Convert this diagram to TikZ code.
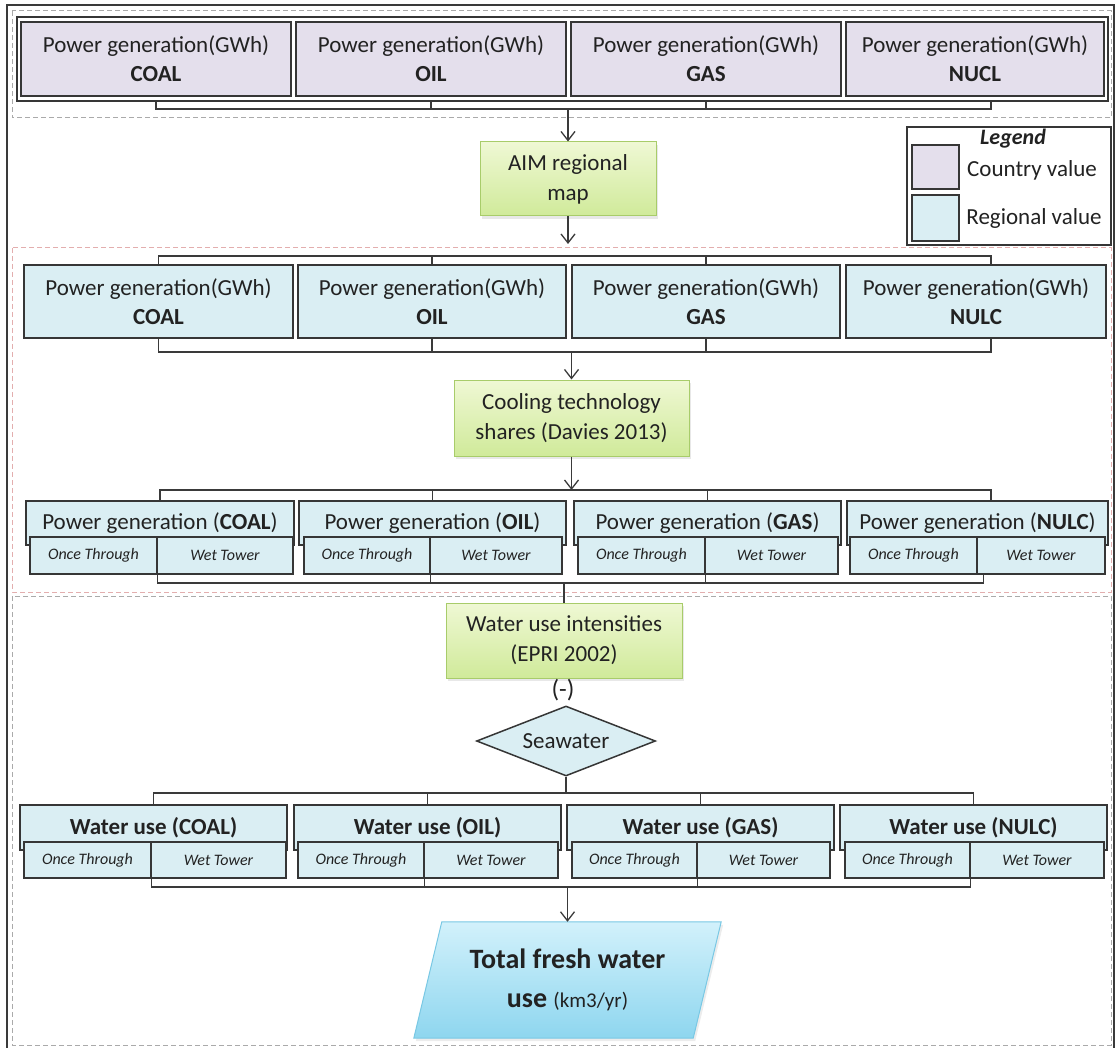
\documentclass[tikz,border=0pt]{standalone}
\usepackage{fontspec}
\setmainfont{Carlito}
\usetikzlibrary{arrows.meta,shapes.geometric,shadows,backgrounds}
\definecolor{purpf}{HTML}{E4DFEC}
\definecolor{bluef}{HTML}{DAEEF3}
\definecolor{bordc}{HTML}{363636}
\definecolor{linec}{HTML}{3A3A3A}
\definecolor{txt}{HTML}{222222}
\definecolor{greenT}{HTML}{EFF8D4}
\definecolor{greenB}{HTML}{D0EA9A}
\definecolor{greenb}{HTML}{A8CC6A}
\definecolor{cyanT}{HTML}{D2F1FB}
\definecolor{cyanB}{HTML}{8ED6EF}
\definecolor{cyanb}{HTML}{79C8E4}
\definecolor{dashg}{HTML}{AAAAAA}
\definecolor{dashp}{HTML}{E3AEAE}
\begin{document}
\begin{tikzpicture}[x=1pt,y=-1pt,
  box/.style={draw=bordc, line width=1.5pt, inner sep=0pt, text=txt, align=center,
    font=\fontsize{23}{29}\selectfont},
  pbox/.style={box, fill=purpf},
  bbox/.style={box, fill=bluef},
  subbox/.style={box, fill=bluef, font=\fontsize{16}{20}\selectfont\itshape},
  gbox/.style={draw=greenb, line width=1pt, top color=greenT, bottom color=greenB,
    inner sep=0pt, text=txt, align=center, font=\fontsize{23}{30}\selectfont,
    drop shadow={opacity=0.18, shadow xshift=2pt, shadow yshift=-3pt}},
  lbl/.style={inner sep=0pt, text=txt, align=center, font=\fontsize{23}{29}\selectfont},
  conn/.style={draw=linec, line width=1.4pt},
  arr/.style={conn, -{Straight Barb[length=9pt,width=14pt,line width=1.3pt]}},
  grpgray/.style={draw=dashg, line width=1pt, dash pattern=on 5pt off 3pt},
  grppink/.style={draw=dashp, line width=1pt, dash pattern=on 5pt off 3pt},
  frame/.style={draw=linec, line width=1.4pt}
]
\useasboundingbox (0,0) rectangle (1118,1048);

% outer frame and dashed groups
\draw[frame] (7,1048) -- (7,5) -- (1114,5) -- (1114,1048);
\draw[grpgray] (12,11) rectangle (1111,118);
\draw[grppink] (12,248) rectangle (1111,592);
\draw[grpgray] (12,596) rectangle (1111,1045);

% ---------- Row 1 : country values ----------
\node[box, fill=white, minimum width=1091pt, minimum height=84pt] (g1) at (562.5,59) {};
\node[pbox, minimum width=270pt, minimum height=74pt] (c1) at (156,59) {Power generation(GWh)\\\textbf{COAL}};
\node[pbox, minimum width=270pt, minimum height=74pt] (c2) at (431,59) {Power generation(GWh)\\\textbf{OIL}};
\node[pbox, minimum width=270pt, minimum height=74pt] (c3) at (706,59) {Power generation(GWh)\\\textbf{GAS}};
\node[pbox, minimum width=258pt, minimum height=74pt] (c4) at (975,59) {Power generation(GWh)\\\textbf{NUCL}};

\coordinate (b1) at (568,109);
\draw[conn] (c1.south|-g1.south) |- (b1) -| ([xshift=16pt]c4.south|-g1.south);
\draw[conn] (c2.south|-g1.south) -- (c2.south|-b1);
\draw[conn] (c3.south|-g1.south) -- (c3.south|-b1);

% ---------- AIM ----------
\node[gbox, minimum width=176pt, minimum height=74pt] (aim) at (568,179) {AIM regional\\map};
\draw[arr] (aim.north|-b1) -- (aim.north);
\coordinate (a2) at (568,244);
\draw[arr] (aim.south) -- (a2);

% ---------- Legend ----------
\node[draw=bordc, line width=1.5pt, fill=white, minimum width=204pt, minimum height=118pt, inner sep=0pt] (leg) at (1009,186) {};
\node[lbl, font=\fontsize{22}{26}\selectfont\bfseries\itshape] (legt) at (1013,139) {Legend};
\node[pbox, minimum width=47pt, minimum height=44pt] (sw1) at (935.5,167) {};
\node[bbox, minimum width=47pt, minimum height=46pt] (sw2) at (935.5,218) {};
\node[lbl] (lt1) at (1032,170) {Country value};
\node[lbl] (lt2) at (1034,218) {Regional value};

% ---------- Row 2 : regional values ----------
\node[bbox, minimum width=269pt, minimum height=73pt] (d1) at (158.5,301.5) {Power generation(GWh)\\\textbf{COAL}};
\node[bbox, minimum width=268pt, minimum height=73pt] (d2) at (432,301.5) {Power generation(GWh)\\\textbf{OIL}};
\node[bbox, minimum width=268pt, minimum height=73pt] (d3) at (706,301.5) {Power generation(GWh)\\\textbf{GAS}};
\node[bbox, minimum width=260pt, minimum height=73pt] (d4) at (976,301.5) {Power generation(GWh)\\\textbf{NULC}};

\coordinate (b2) at (568,256);
\draw[conn] (d1.north) |- (b2) -| ([xshift=15pt]d4.north);
\draw[conn] (d2.north) -- (d2.north|-b2);
\draw[conn] (d3.north) -- (d3.north|-b2);

\coordinate (b3) at (571,352);
\draw[conn] (d1.south) |- (b3) -| ([xshift=15pt]d4.south);
\draw[conn] (d2.south) -- (d2.south|-b3);
\draw[conn] (d3.south) -- (d3.south|-b3);

% ---------- Cooling ----------
\node[gbox, minimum width=235pt, minimum height=76pt] (cool) at (571.5,418) {Cooling technology\\shares (Davies 2013)};
\draw[arr] (cool.north|-b3) -- (cool.north);
\coordinate (b4) at (571.5,490);
\draw[arr] (cool.south) -- (b4);

% ---------- Row 3 : power generation by cooling ----------
\node[bbox, minimum width=268pt, minimum height=44pt] (e1) at (160,523) {Power generation (\textbf{COAL})};
\node[bbox, minimum width=267pt, minimum height=44pt] (e2) at (432.5,523) {Power generation (\textbf{OIL})};
\node[bbox, minimum width=267pt, minimum height=44pt] (e3) at (707.5,523) {Power generation (\textbf{GAS})};
\node[bbox, minimum width=261pt, minimum height=44pt] (e4) at (977.5,523) {Power generation (\textbf{NULC})};

\node[subbox, minimum width=127pt, minimum height=37pt] (s1a) at (93.5,555.5) {Once Through};
\node[subbox, minimum width=136pt, minimum height=37pt] (s1b) at (225,555.5) {Wet Tower};
\node[subbox, minimum width=126pt, minimum height=37pt] (s2a) at (367,555.5) {Once Through};
\node[subbox, minimum width=132pt, minimum height=37pt] (s2b) at (496,555.5) {Wet Tower};
\node[subbox, minimum width=127pt, minimum height=37pt] (s3a) at (641.5,555.5) {Once Through};
\node[subbox, minimum width=133pt, minimum height=37pt] (s3b) at (771.5,555.5) {Wet Tower};
\node[subbox, minimum width=127pt, minimum height=37pt] (s4a) at (913.5,555.5) {Once Through};
\node[subbox, minimum width=128pt, minimum height=37pt] (s4b) at (1041,555.5) {Wet Tower};

\draw[conn] (e1.north) |- (b4) -| ([xshift=13.5pt]e4.north);
\draw[conn] (e2.north) -- (e2.north|-b4);
\draw[conn] (e3.north) -- (e3.north|-b4);

\coordinate (b5) at (564,583);
\draw[conn] (s1a.south east) |- (b5) -| ([xshift=6pt]s4a.south east);
\draw[conn] (s2a.south east) -- (s2a.south east|-b5);
\draw[conn] (s3a.south east) -- (s3a.south east|-b5);

% ---------- Water use intensities ----------
\node[gbox, minimum width=236pt, minimum height=75pt] (wui) at (564,640.5) {Water use intensities\\(EPRI 2002)};
\draw[conn] (wui.north|-b5) -- (wui.north);
\node[lbl, font=\fontsize{25}{29}\selectfont] (minus) at (563,690) {(-)};
\node[diamond, aspect=2.5, draw=bordc, line width=1.5pt, fill=bluef, inner sep=0pt,
  minimum width=179pt, minimum height=70pt, text=txt, font=\fontsize{23}{29}\selectfont] (sea) at (566,741) {Seawater};

% ---------- Row 4 : water use ----------
\node[bbox, minimum width=267pt, minimum height=45pt] (f1) at (153.5,827.5) {\textbf{Water use (COAL)}};
\node[bbox, minimum width=267pt, minimum height=45pt] (f2) at (427.5,827.5) {\textbf{Water use (OIL)}};
\node[bbox, minimum width=267pt, minimum height=45pt] (f3) at (700.5,827.5) {\textbf{Water use (GAS)}};
\node[bbox, minimum width=267pt, minimum height=45pt] (f4) at (973.5,827.5) {\textbf{Water use (NULC)}};

\node[subbox, minimum width=127pt, minimum height=36pt] (t1a) at (87.5,860) {Once Through};
\node[subbox, minimum width=135pt, minimum height=36pt] (t1b) at (218.5,860) {Wet Tower};
\node[subbox, minimum width=126pt, minimum height=36pt] (t2a) at (361,860) {Once Through};
\node[subbox, minimum width=134pt, minimum height=36pt] (t2b) at (491,860) {Wet Tower};
\node[subbox, minimum width=125pt, minimum height=36pt] (t3a) at (634.5,860) {Once Through};
\node[subbox, minimum width=133pt, minimum height=36pt] (t3b) at (763.5,860) {Wet Tower};
\node[subbox, minimum width=125pt, minimum height=36pt] (t4a) at (907.5,860) {Once Through};
\node[subbox, minimum width=134pt, minimum height=36pt] (t4b) at (1037,860) {Wet Tower};

\coordinate (b6) at (566,793);
\draw[conn] (sea.south) -- (b6);
\draw[conn] (f1.north) |- (b6) -| (f4.north);
\draw[conn] (f2.north) -- (f2.north|-b6);
\draw[conn] (f3.north) -- (f3.north|-b6);

\coordinate (b7) at (566,887);
\draw[conn] (t1a.south east) |- (b7) -| (t4a.south east);
\draw[conn] (t2a.south east) -- (t2a.south east|-b7);
\draw[conn] (t3a.south east) -- (t3a.south east|-b7);

% ---------- Total ----------
\node[inner sep=0pt, minimum width=279pt, minimum height=116pt, text=txt, align=center,
  font=\fontsize{28}{39}\selectfont] (total) at (567.5,980)
  {\textbf{Total fresh water}\\\textbf{use} {\fontsize{21}{39}\selectfont(km3/yr)}};
\begin{scope}[on background layer]
\path[draw=cyanb, line width=1pt, top color=cyanT, bottom color=cyanB,
  drop shadow={opacity=0.15, shadow xshift=2pt, shadow yshift=-3pt}]
  ([xshift=-14pt]total.south west) -- ([xshift=14pt]total.north west)
  -- ([xshift=14pt]total.north east) -- ([xshift=-14pt]total.south east) -- cycle;
\end{scope}
\draw[arr] (total.north|-b7) -- (total.north);

\end{tikzpicture}
\end{document}
